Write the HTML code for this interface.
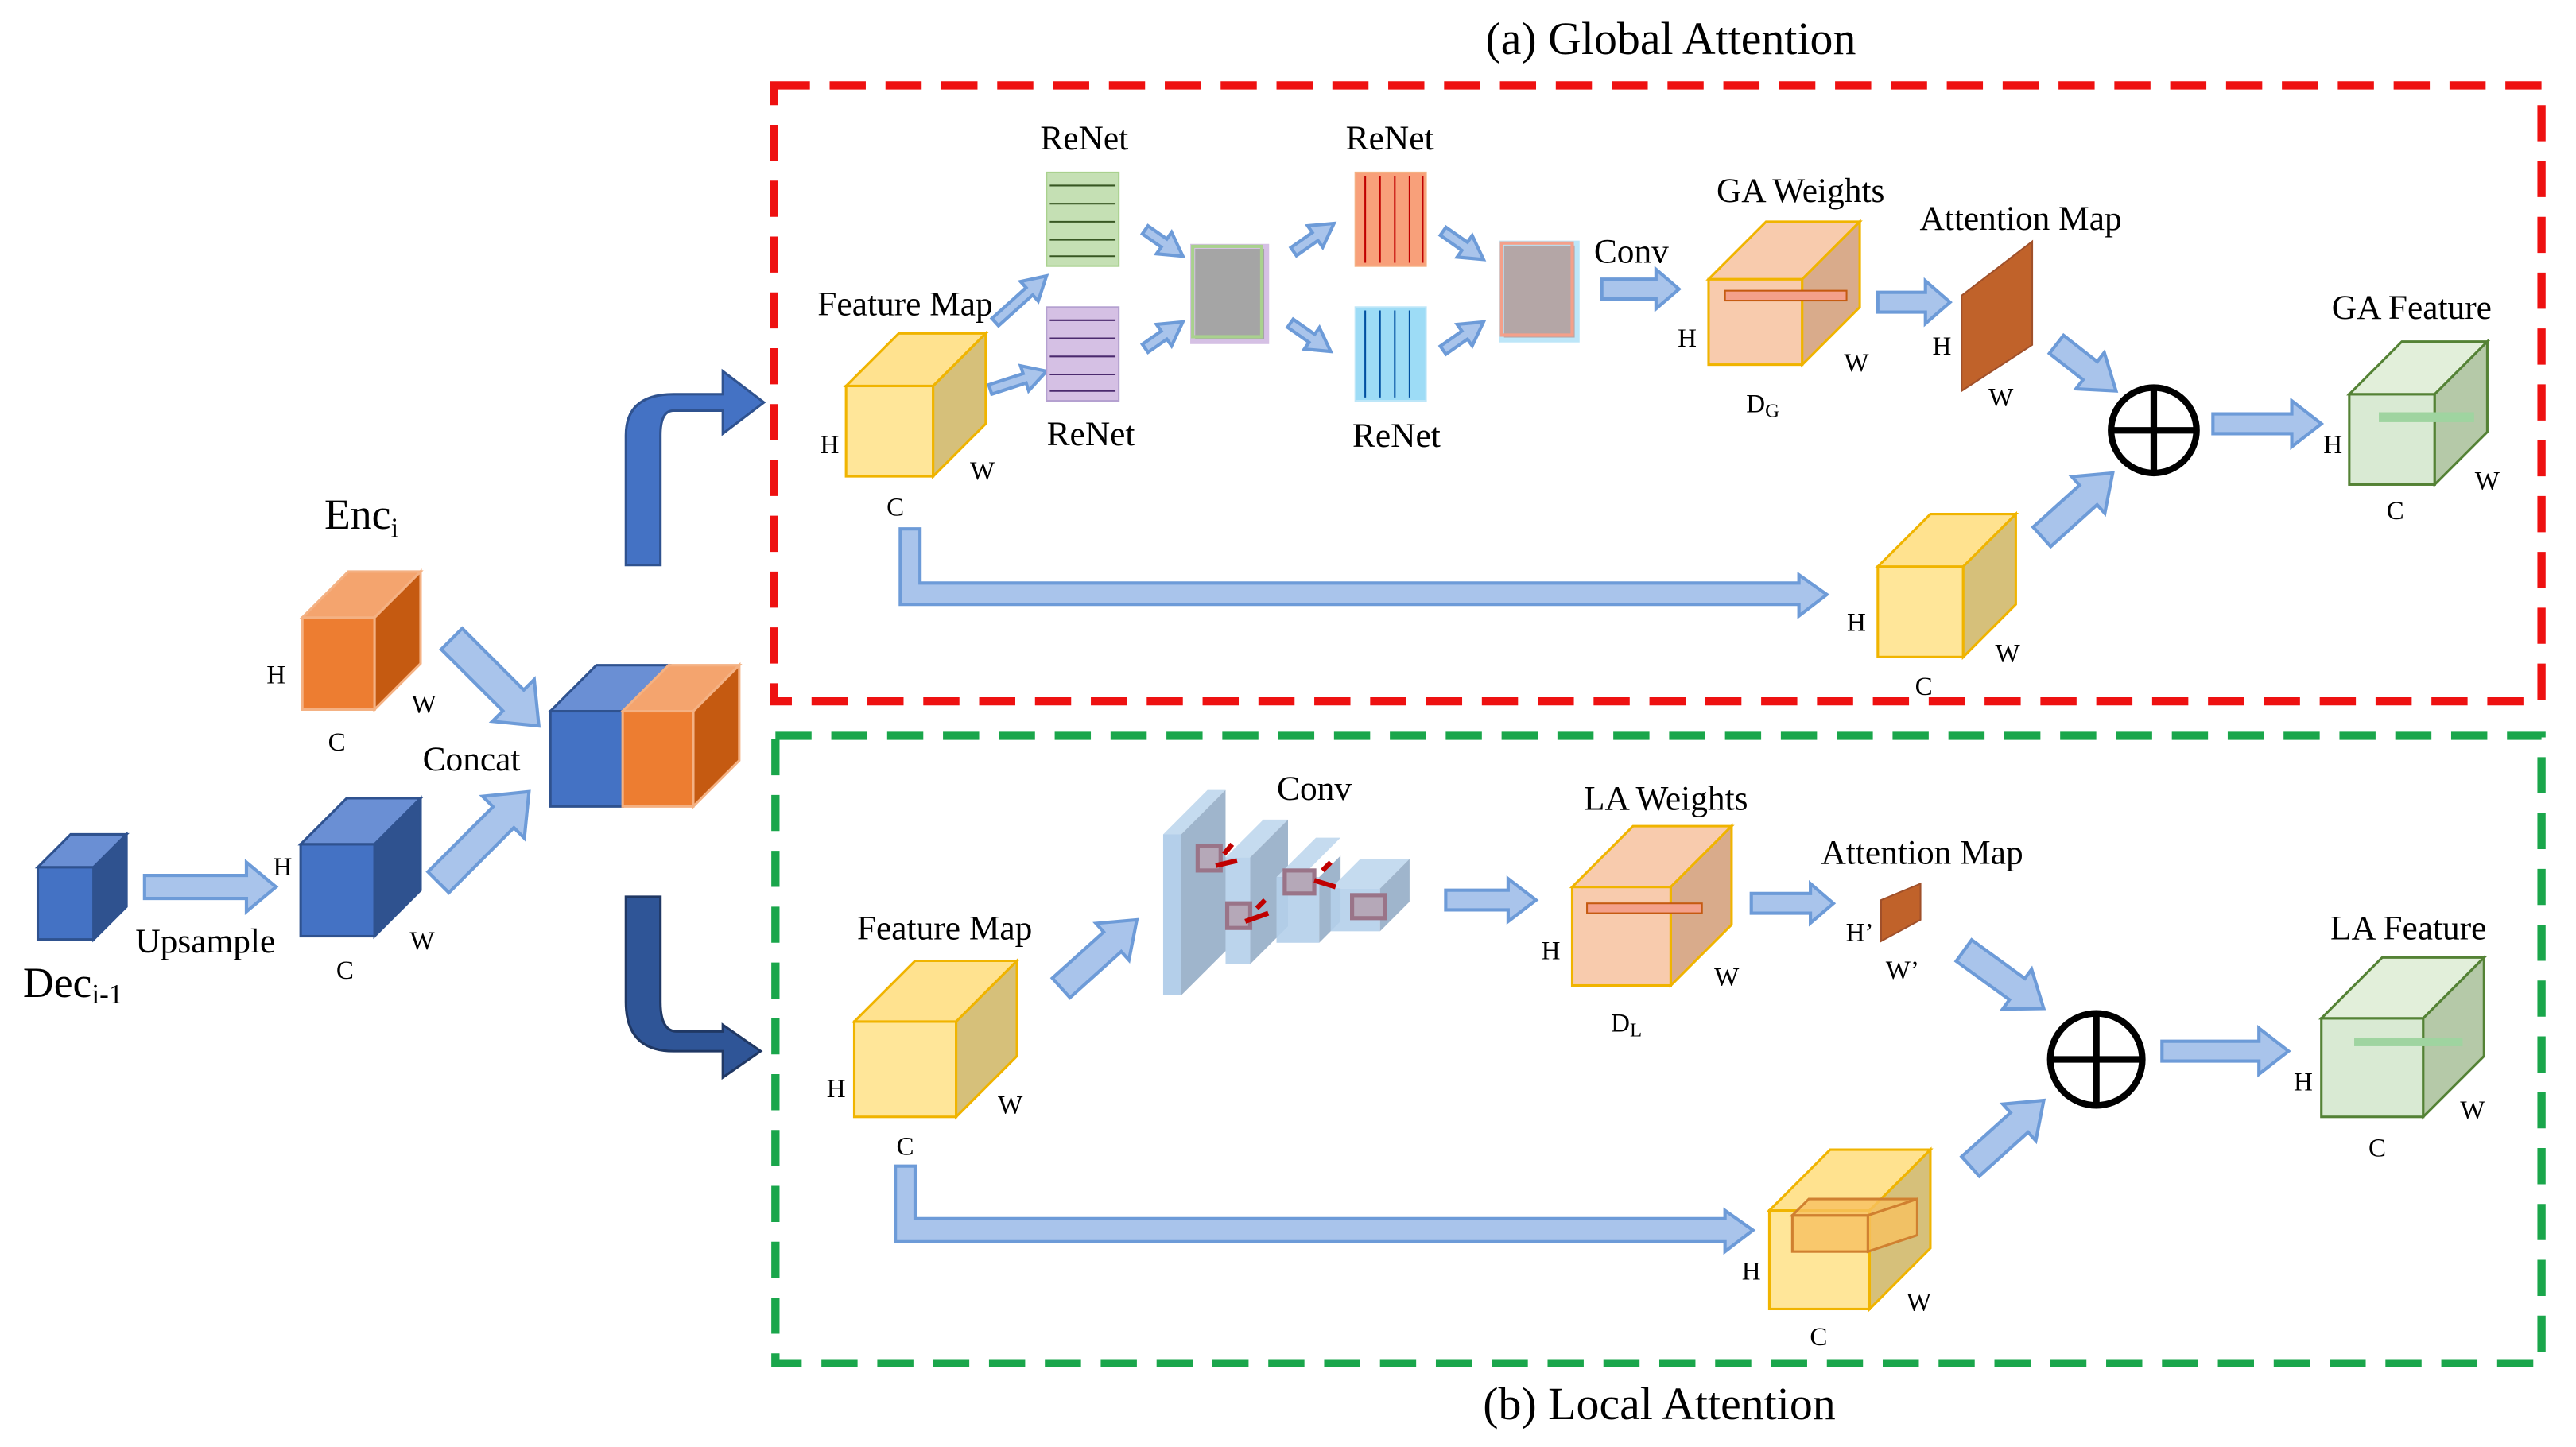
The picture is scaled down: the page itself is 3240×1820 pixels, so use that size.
<!DOCTYPE html>
<html><head><meta charset="utf-8"><style>
html,body{margin:0;padding:0;background:#fff;}
svg{display:block;}
text{font-family:"Liberation Serif",serif;fill:#000;}
</style></head><body>
<svg width="3240" height="1820" viewBox="0 0 1568 881" preserveAspectRatio="none" xmlns="http://www.w3.org/2000/svg">
<style>
.la{fill:#a9c4eb;stroke:#6d9bd8;stroke-width:2;}
.t{font-size:21px;}
.s{font-size:16px;}
</style>
<text x="1017" y="33" text-anchor="middle" style="font-size:28px">(a) Global Attention</text>
<text x="1010" y="864" text-anchor="middle" style="font-size:28px">(b) Local Attention</text>
<rect x="471" y="52" width="1076" height="375" fill="none" stroke="#ee1111" stroke-width="5" stroke-dasharray="22 12"/>
<rect x="472" y="448" width="1075" height="382" fill="none" stroke="#1aa64b" stroke-width="5" stroke-dasharray="22 12"/>

<!-- Dec cube -->
<g stroke="#2f528f" stroke-width="1.5">
<rect x="23" y="528" width="34" height="44" fill="#4472c4"/>
<polygon points="23,528 43,508 77,508 57,528" fill="#6a8fd4"/>
<polygon points="57,528 77,508 77,552 57,572" fill="#2f528f"/>
</g>
<text x="14" y="607" style="font-size:26px">Dec<tspan style="font-size:17px" dy="4">i-1</tspan></text>
<polygon class="la" points="88,533 150,533 150,525 168,540 150,555 150,547 88,547"/>
<text x="125" y="580" class="t" text-anchor="middle">Upsample</text>

<g stroke="#2f528f" stroke-width="1.5">
<rect x="183" y="514" width="45" height="56" fill="#4472c4"/>
<polygon points="183,514 211,486 256,486 228,514" fill="#6a8fd4"/>
<polygon points="228,514 256,486 256,542 228,570" fill="#2f528f"/>
</g>
<text x="172" y="533" class="s" text-anchor="middle">H</text>
<text x="257" y="578" class="s" text-anchor="middle">W</text>
<text x="210" y="596" class="s" text-anchor="middle">C</text>

<g stroke="#f4b183" stroke-width="1.5">
<rect x="184" y="376" width="44" height="56" fill="#ed7d31"/>
<polygon points="184,376 212,348 256,348 228,376" fill="#f4a46e"/>
<polygon points="228,376 256,348 256,404 228,432" fill="#c55a11"/>
</g>
<text x="220" y="322" text-anchor="middle" style="font-size:26px">Enc<tspan style="font-size:17px" dy="5">i</tspan></text>
<text x="168" y="416" class="s" text-anchor="middle">H</text>
<text x="258" y="434" class="s" text-anchor="middle">W</text>
<text x="205" y="457" class="s" text-anchor="middle">C</text>

<g transform="translate(328,442) rotate(45)"><polygon class="la" points="-75,-9 -22,-9 -22,-18 0,0 -22,18 -22,9 -75,9"/></g>
<g transform="translate(322,482) rotate(-45)"><polygon class="la" points="-78,-9 -22,-9 -22,-18 0,0 -22,18 -22,9 -78,9"/></g>
<text x="287" y="469" class="t" text-anchor="middle">Concat</text>

<g stroke="#f4b183" stroke-width="1.5">
<rect x="335" y="433" width="44" height="58" fill="#4472c4" stroke="#2f528f"/>
<polygon points="335,433 363,405 407,405 379,433" fill="#6a8fd4" stroke="#2f528f"/>
<rect x="379" y="433" width="43" height="58" fill="#ed7d31"/>
<polygon points="379,433 407,405 450,405 422,433" fill="#f4a46e"/>
<polygon points="422,433 450,405 450,463 422,491" fill="#c55a11"/>
</g>

<path d="M381,344 L381,265 Q381,240 410,240 L440,240 L440,226 L465,245 L440,264 L440,250 L410,250 Q402,250 402,265 L402,344 Z" fill="#4472c4" stroke="#2f528f" stroke-width="1.5"/>
<path d="M381,546 L381,610 Q381,640 410,640 L440,640 L440,656 L463,640 L440,624 L440,628 L412,628 Q402,628 402,610 L402,546 Z" fill="#2f5597" stroke="#203864" stroke-width="1.5"/>

<!-- GLOBAL -->
<g stroke="#f0b400" stroke-width="1.5">
<rect x="515" y="235" width="53" height="55" fill="#ffe699"/>
<polygon points="515,235 547,203 600,203 568,235" fill="#ffe28f"/>
<polygon points="568,235 600,203 600,258 568,290" fill="#d6c07a"/>
</g>
<text x="551" y="192" class="t" text-anchor="middle">Feature Map</text>
<text x="505" y="276" class="s" text-anchor="middle">H</text>
<text x="598" y="292" class="s" text-anchor="middle">W</text>
<text x="545" y="314" class="s" text-anchor="middle">C</text>
<g transform="translate(637,168) rotate(-42)"><polygon class="la" points="-42,-3 -14,-3 -14,-8 0,0 -14,8 -14,3 -42,3"/></g>
<g transform="translate(637,226) rotate(-18)"><polygon class="la" points="-36,-3 -14,-3 -14,-8 0,0 -14,8 -14,3 -36,3"/></g>

<rect x="637" y="105" width="44" height="57" fill="#c5e0b4" stroke="#a9d18e"/>
<g stroke="#385723" stroke-width="1">
<line x1="639" y1="113" x2="679" y2="113"/><line x1="639" y1="124" x2="679" y2="124"/><line x1="639" y1="135" x2="679" y2="135"/><line x1="639" y1="146" x2="679" y2="146"/><line x1="639" y1="156" x2="679" y2="156"/>
</g>
<rect x="637" y="187" width="44" height="57" fill="#d5c0e4" stroke="#b4a0d0"/>
<g stroke="#4b2a6e" stroke-width="1">
<line x1="639" y1="195" x2="679" y2="195"/><line x1="639" y1="206" x2="679" y2="206"/><line x1="639" y1="217" x2="679" y2="217"/><line x1="639" y1="228" x2="679" y2="228"/><line x1="639" y1="238" x2="679" y2="238"/>
</g>
<text x="660" y="91" class="t" text-anchor="middle">ReNet</text>
<text x="664" y="271" class="t" text-anchor="middle">ReNet</text>
<g transform="translate(720,156) rotate(35)"><polygon class="la" points="-28,-3 -14,-3 -14,-8 0,0 -14,8 -14,3 -28,3"/></g>
<g transform="translate(720,196) rotate(-35)"><polygon class="la" points="-28,-3 -14,-3 -14,-8 0,0 -14,8 -14,3 -28,3"/></g>
<rect x="726" y="150" width="45" height="58" fill="#a5a5a5" stroke="#d5c0e4" stroke-width="3"/>
<rect x="726" y="150" width="42" height="55" fill="none" stroke="#a9d18e" stroke-width="2"/>
<g transform="translate(812,136) rotate(-35)"><polygon class="la" points="-30,-3 -14,-3 -14,-8 0,0 -14,8 -14,3 -30,3"/></g>
<g transform="translate(810,214) rotate(35)"><polygon class="la" points="-30,-3 -14,-3 -14,-8 0,0 -14,8 -14,3 -30,3"/></g>

<rect x="825" y="105" width="43" height="57" fill="#f8a07a" stroke="#f4b183"/>
<g stroke="#c00000" stroke-width="1"><line x1="831" y1="160" x2="831" y2="107"/><line x1="840" y1="160" x2="840" y2="107"/><line x1="849" y1="160" x2="849" y2="107"/><line x1="858" y1="160" x2="858" y2="107"/><line x1="866" y1="160" x2="866" y2="107"/></g>
<rect x="825" y="187" width="43" height="57" fill="#9ddcf6" stroke="#bde6f8"/>
<g stroke="#0050a0" stroke-width="1"><line x1="831" y1="189" x2="831" y2="242"/><line x1="840" y1="189" x2="840" y2="242"/><line x1="849" y1="189" x2="849" y2="242"/><line x1="858" y1="189" x2="858" y2="242"/></g>
<text x="846" y="91" class="t" text-anchor="middle">ReNet</text>
<text x="850" y="272" class="t" text-anchor="middle">ReNet</text>
<g transform="translate(903,158) rotate(35)"><polygon class="la" points="-30,-3 -14,-3 -14,-8 0,0 -14,8 -14,3 -30,3"/></g>
<g transform="translate(903,196) rotate(-35)"><polygon class="la" points="-30,-3 -14,-3 -14,-8 0,0 -14,8 -14,3 -30,3"/></g>
<rect x="914" y="148" width="46" height="59" fill="#b4a6a6" stroke="#bde6f8" stroke-width="3"/>
<rect x="914" y="148" width="43" height="56" fill="none" stroke="#f4a08a" stroke-width="2"/>

<text x="993" y="160" class="t" text-anchor="middle">Conv</text>
<polygon class="la" points="975,170 1008,170 1008,164 1022,176 1008,188 1008,182 975,182"/>

<g stroke="#f0b400" stroke-width="1.5">
<rect x="1040" y="170" width="57" height="52" fill="#f8cbad"/>
<polygon points="1040,170 1075,135 1132,135 1097,170" fill="#f8cbad"/>
<polygon points="1097,170 1132,135 1132,187 1097,222" fill="#d9ab8b"/>
</g>
<rect x="1050" y="177" width="74" height="6" fill="#f4a08a" stroke="#c55a11" stroke-width="1"/>
<text x="1096" y="123" class="t" text-anchor="middle">GA Weights</text>
<text x="1027" y="211" class="s" text-anchor="middle">H</text>
<text x="1130" y="226" class="s" text-anchor="middle">W</text>
<text x="1073" y="251" class="s" text-anchor="middle">D<tspan style="font-size:12px" dy="3">G</tspan></text>
<polygon class="la" points="1143,178 1172,178 1172,171 1187,184 1172,197 1172,190 1143,190"/>
<polygon points="1194,180 1237,147 1237,210 1194,238" fill="#c0622a" stroke="#a0502a"/>
<text x="1230" y="140" class="t" text-anchor="middle">Attention Map</text>
<text x="1182" y="216" class="s" text-anchor="middle">H</text>
<text x="1218" y="247" class="s" text-anchor="middle">W</text>
<g transform="translate(1288,238) rotate(38)"><polygon class="la" points="-46,-7 -20,-7 -20,-14 0,0 -20,14 -20,7 -46,7"/></g>
<circle cx="1311" cy="262" r="26" fill="#fff" stroke="#000" stroke-width="4"/>
<line x1="1285" y1="262" x2="1337" y2="262" stroke="#000" stroke-width="4"/><line x1="1311" y1="236" x2="1311" y2="288" stroke="#000" stroke-width="4"/>
<g transform="translate(1286,288) rotate(-42)"><polygon class="la" points="-58,-8 -20,-8 -20,-15 0,0 -20,15 -20,8 -58,8"/></g>
<polygon class="la" points="1347,252 1395,252 1395,244 1413,258 1395,272 1395,264 1347,264"/>
<g stroke="#548235" stroke-width="1.5">
<rect x="1430" y="240" width="52" height="55" fill="#d9ead3"/>
<polygon points="1430,240 1462,208 1514,208 1482,240" fill="#e2efda"/>
<polygon points="1482,240 1514,208 1514,263 1482,295" fill="#b5c9a8"/>
</g>
<rect x="1448" y="251" width="58" height="6" fill="#9fd4a0" stroke="none"/>
<text x="1468" y="194" class="t" text-anchor="middle">GA Feature</text>
<text x="1420" y="276" class="s" text-anchor="middle">H</text>
<text x="1514" y="298" class="s" text-anchor="middle">W</text>
<text x="1458" y="316" class="s" text-anchor="middle">C</text>
<polygon class="la" points="548,322 560,322 560,355 1095,355 1095,350 1112,362 1095,375 1095,368 548,368"/>
<g stroke="#f0b400" stroke-width="1.5">
<rect x="1143" y="345" width="52" height="55" fill="#ffe699"/>
<polygon points="1143,345 1175,313 1227,313 1195,345" fill="#ffe28f"/>
<polygon points="1195,345 1227,313 1227,368 1195,400" fill="#d6c07a"/>
</g>
<text x="1130" y="384" class="s" text-anchor="middle">H</text>
<text x="1222" y="403" class="s" text-anchor="middle">W</text>
<text x="1171" y="423" class="s" text-anchor="middle">C</text>

<!-- LOCAL -->
<g stroke="#f0b400" stroke-width="1.5">
<rect x="520" y="622" width="62" height="58" fill="#ffe699"/>
<polygon points="520,622 557,585 619,585 582,622" fill="#ffe28f"/>
<polygon points="582,622 619,585 619,643 582,680" fill="#d6c07a"/>
</g>
<text x="575" y="572" class="t" text-anchor="middle">Feature Map</text>
<text x="509" y="668" class="s" text-anchor="middle">H</text>
<text x="615" y="678" class="s" text-anchor="middle">W</text>
<text x="551" y="703" class="s" text-anchor="middle">C</text>
<g transform="translate(692,560) rotate(-42)"><polygon class="la" points="-62,-8 -20,-8 -20,-15 0,0 -20,15 -20,8 -62,8"/></g>

<g>
<polygon points="708,508 735,481 746,481 719,508" fill="#c5dbef"/>
<rect x="708" y="508" width="11" height="98" fill="#b4cfea"/>
<polygon points="719,508 746,481 746,579 719,606" fill="#9fb5cc"/>
<polygon points="746,522 769,499 784,499 761,522" fill="#c5dbef"/>
<rect x="746" y="522" width="15" height="65" fill="#b4cfea" fill-opacity="0.9"/>
<polygon points="761,522 784,499 784,564 761,587" fill="#9fb5cc"/>
<polygon points="777,534 801,510 816,510 792,534" fill="#c5dbef"/>
<rect x="777" y="534" width="26" height="40" fill="#b4cfea" fill-opacity="0.9"/>
<polygon points="803,534 816,521 816,561 803,574" fill="#9fb5cc"/>
<polygon points="810,541 828,523 858,523 840,541" fill="#c5dbef"/>
<rect x="810" y="541" width="30" height="26" fill="#b4cfea" fill-opacity="0.9"/>
<polygon points="840,541 858,523 858,549 840,567" fill="#9fb5cc"/>
</g>
<g fill="#b5a8b8" stroke="#9a7488" stroke-width="2.5">
<rect x="729" y="515" width="14" height="15"/>
<rect x="747" y="550" width="14" height="15"/>
<rect x="782" y="530" width="18" height="14"/>
<rect x="823" y="545" width="20" height="14"/>
</g>
<g stroke="#c00000" stroke-width="3">
<line x1="740" y1="527" x2="753" y2="524"/><line x1="758" y1="561" x2="772" y2="556"/><line x1="800" y1="536" x2="813" y2="540"/><line x1="745" y1="520" x2="750" y2="514"/><line x1="765" y1="553" x2="770" y2="548"/><line x1="805" y1="530" x2="810" y2="525"/>
</g>
<text x="800" y="487" class="t" text-anchor="middle">Conv</text>
<polygon class="la" points="880,542 918,542 918,535 935,548 918,561 918,554 880,554"/>

<g stroke="#f0b400" stroke-width="1.5">
<rect x="957" y="540" width="60" height="60" fill="#f8cbad"/>
<polygon points="957,540 994,503 1054,503 1017,540" fill="#f8cbad"/>
<polygon points="1017,540 1054,503 1054,563 1017,600" fill="#d9ab8b"/>
</g>
<rect x="966" y="550" width="70" height="6" fill="#f4a08a" stroke="#c55a11" stroke-width="1"/>
<text x="1014" y="493" class="t" text-anchor="middle">LA Weights</text>
<text x="944" y="584" class="s" text-anchor="middle">H</text>
<text x="1051" y="600" class="s" text-anchor="middle">W</text>
<text x="990" y="628" class="s" text-anchor="middle">D<tspan style="font-size:12px" dy="3">L</tspan></text>
<polygon class="la" points="1066,544 1102,544 1102,538 1116,550 1102,562 1102,556 1066,556"/>
<polygon points="1145,548 1169,538 1169,560 1145,573" fill="#c0622a" stroke="#a0502a"/>
<text x="1170" y="526" class="t" text-anchor="middle">Attention Map</text>
<text x="1132" y="573" class="s" text-anchor="middle">H’</text>
<text x="1158" y="596" class="s" text-anchor="middle">W’</text>
<g transform="translate(1244,614) rotate(36)"><polygon class="la" points="-60,-8 -20,-8 -20,-15 0,0 -20,15 -20,8 -60,8"/></g>
<circle cx="1276" cy="645" r="28" fill="#fff" stroke="#000" stroke-width="4"/>
<line x1="1248" y1="645" x2="1304" y2="645" stroke="#000" stroke-width="4"/><line x1="1276" y1="617" x2="1276" y2="673" stroke="#000" stroke-width="4"/>
<g transform="translate(1244,670) rotate(-42)"><polygon class="la" points="-60,-8 -20,-8 -20,-15 0,0 -20,15 -20,8 -60,8"/></g>
<polygon class="la" points="1316,634 1375,634 1375,626 1393,640 1375,654 1375,646 1316,646"/>
<g stroke="#548235" stroke-width="1.5">
<rect x="1413" y="620" width="62" height="60" fill="#d9ead3"/>
<polygon points="1413,620 1450,583 1512,583 1475,620" fill="#e2efda"/>
<polygon points="1475,620 1512,583 1512,643 1475,680" fill="#b5c9a8"/>
</g>
<rect x="1433" y="632" width="66" height="5" fill="#9fd4a0"/>
<text x="1466" y="572" class="t" text-anchor="middle">LA Feature</text>
<text x="1402" y="664" class="s" text-anchor="middle">H</text>
<text x="1505" y="681" class="s" text-anchor="middle">W</text>
<text x="1447" y="704" class="s" text-anchor="middle">C</text>
<polygon class="la" points="545,710 557,710 557,742 1050,742 1050,737 1067,749 1050,762 1050,756 545,756"/>
<g stroke="#f0b400" stroke-width="1.5">
<rect x="1077" y="737" width="61" height="60" fill="#ffe699"/>
<polygon points="1077,737 1114,700 1175,700 1138,737" fill="#ffe28f"/>
<polygon points="1138,737 1175,700 1175,760 1138,797" fill="#d6c07a"/>
</g>
<g fill="#f8c060" fill-opacity="0.8" stroke="#d08030" stroke-width="1.5">
<rect x="1091" y="740" width="46" height="22"/>
<polygon points="1091,740 1101,730 1167,730 1137,740"/>
<polygon points="1137,740 1167,730 1167,752 1137,762"/>
</g>
<text x="1066" y="779" class="s" text-anchor="middle">H</text>
<text x="1168" y="798" class="s" text-anchor="middle">W</text>
<text x="1107" y="819" class="s" text-anchor="middle">C</text>
</svg>
</body></html>
